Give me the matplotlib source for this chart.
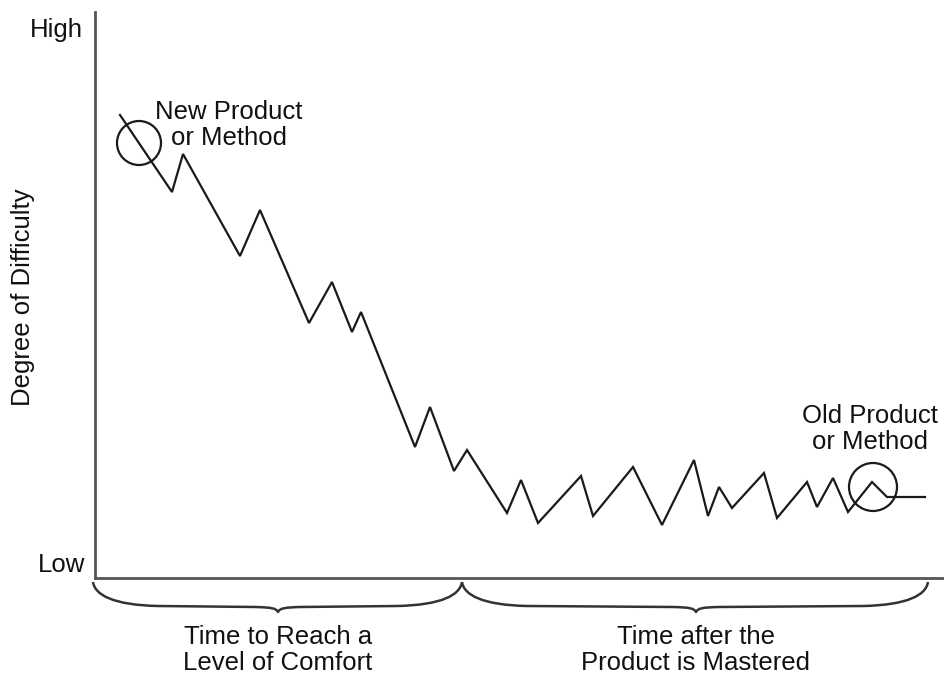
import matplotlib
matplotlib.use("Agg")
import matplotlib.pyplot as plt
from matplotlib.patches import Circle, PathPatch
from matplotlib.path import Path

# Time (x) and difficulty (y) values
time_vals = [25, 77, 88, 145, 165, 214, 237, 257, 266, 320, 335, 359, 372, 412, 426,
             443, 486, 498, 538, 567, 599, 613, 624, 637, 669, 682, 712, 722, 738,
             753, 777, 792, 830]
difficulty = [463, 386, 424, 322, 368, 255, 296, 246, 266, 131, 171, 107, 128, 65, 98,
              55, 102, 62, 111, 53, 118, 62, 91, 70, 105, 60, 96, 71, 100,
              66, 96, 81, 81]

markers_xy = [(44, 435), (778, 91)]
marker_radius = [22, 24]
marker_labels = ["New Product\nor Method", "Old Product\nor Method"]
label_xy = [(134, 453), (775, 149)]

phase_bounds = [(-2, 367), (367, 833)]
phase_tips = [183, 601]
phase_labels = ["Time to Reach a\nLevel of Comfort", "Time after the\nProduct is Mastered"]

y_ticklabels = ["High", "Low"]
y_label = "Degree of Difficulty"

plt.rcParams['font.family'] = ['Liberation Sans', 'DejaVu Sans']
FS = 18.5
TXT = '#111111'

fig = plt.figure(figsize=(9.44, 6.79), dpi=100)
ax = fig.add_axes([95/944, 101/679, 849/944, 566/679])
ax.set_xlim(0, 849)
ax.set_ylim(0, 566)
for s in ['top', 'right']:
    ax.spines[s].set_visible(False)
for s in ['left', 'bottom']:
    ax.spines[s].set_color('#555555')
    ax.spines[s].set_linewidth(2)
ax.set_xticks([])
ax.set_yticks([])

ax.plot(time_vals, difficulty, color='#1a1a1a', lw=1.6, solid_joinstyle='miter')

for (cx, cy), r in zip(markers_xy, marker_radius):
    ax.add_patch(Circle((cx, cy), r, fill=False, ec='#1a1a1a', lw=1.6, clip_on=False))

for (lx, ly), t in zip(label_xy, marker_labels):
    ax.text(lx, ly, t, ha='center', va='center', fontsize=FS, color=TXT,
            linespacing=1.15, clip_on=False)

ax.text(-12, 548, y_ticklabels[0], ha='right', va='center', fontsize=FS, color=TXT)
ax.text(-10, 13, y_ticklabels[1], ha='right', va='center', fontsize=FS, color=TXT)
ax.text(-72, 281, y_label, ha='center', va='center', rotation=90, fontsize=FS, color=TXT)

# braces
y0, y1, y2 = -4, -27, -34
for (a, b), m, lab in zip(phase_bounds, phase_tips, phase_labels):
    d_end, d_mid = 65, 22
    verts = [(a, y0),
             (a + 2, y1 + 10), (a + 20, y1), (a + d_end, y1 - 1),
             (m - d_mid, y1 - 2),
             (m - 7, y1 - 2.5), (m - 2, y1 - 3), (m, y2),
             (m + 2, y1 - 3), (m + 7, y1 - 2.5), (m + d_mid, y1 - 2),
             (b - d_end, y1 - 1),
             (b - 20, y1), (b - 2, y1 + 10), (b, y0)]
    codes = [Path.MOVETO,
             Path.CURVE4, Path.CURVE4, Path.CURVE4,
             Path.LINETO,
             Path.CURVE4, Path.CURVE4, Path.CURVE4,
             Path.CURVE4, Path.CURVE4, Path.CURVE4,
             Path.LINETO,
             Path.CURVE4, Path.CURVE4, Path.CURVE4]
    ax.add_patch(PathPatch(Path(verts, codes), fill=False, ec='#333333', lw=1.8,
                           clip_on=False, joinstyle='round'))
    ax.text(m, -72, lab, ha='center', va='center', fontsize=FS, color=TXT,
            linespacing=1.15, clip_on=False)

fig.savefig('out.png', dpi=100)
